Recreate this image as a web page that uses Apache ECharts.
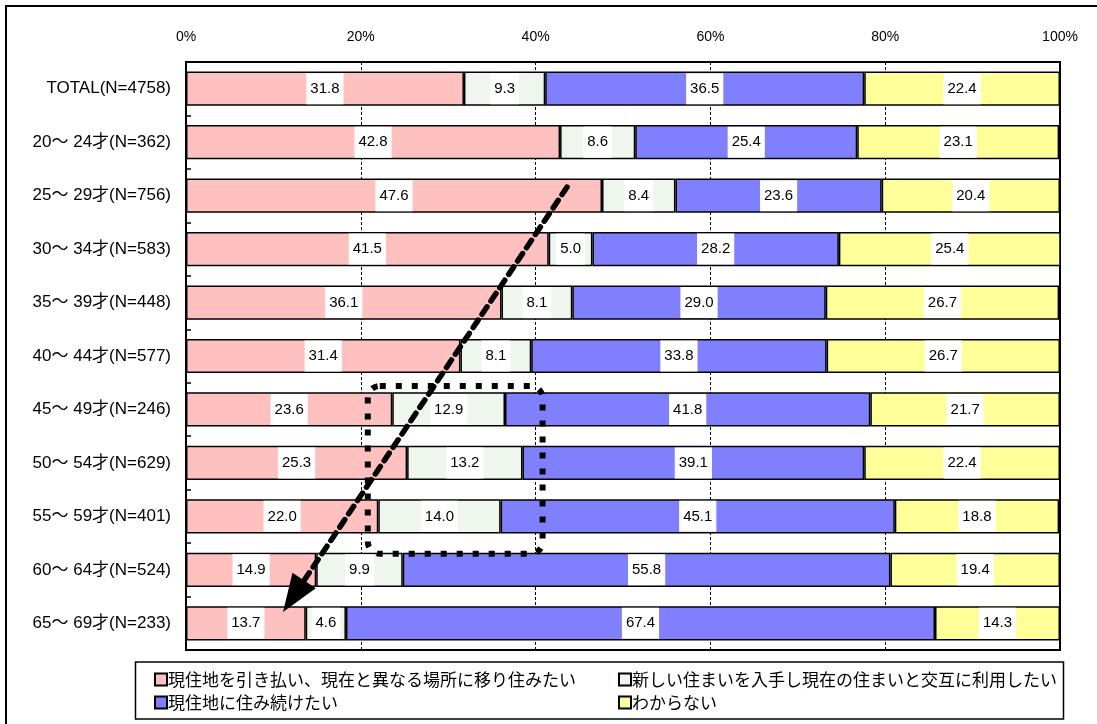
<!DOCTYPE html>
<html>
<head>
<meta charset="utf-8">
<script src="https://cdn.jsdelivr.net/npm/echarts@6/dist/echarts.min.js"></script>
<style>
  html, body { margin: 0; padding: 0; background: #fff; }
  #chart { width: 1097px; height: 724px; }
</style>
</head>
<body>
<div id="chart"></div>
<script>
// Age groups (N = respondents)
const categories = [
  'TOTAL(N=4758)',
  '20～ 24才(N=362)',
  '25～ 29才(N=756)',
  '30～ 34才(N=583)',
  '35～ 39才(N=448)',
  '40～ 44才(N=577)',
  '45～ 49才(N=246)',
  '50～ 54才(N=629)',
  '55～ 59才(N=401)',
  '60～ 64才(N=524)',
  '65～ 69才(N=233)'
];

// Share of answers per group, %
const moveAway = [31.8, 42.8, 47.6, 41.5, 36.1, 31.4, 23.6, 25.3, 22.0, 14.9, 13.7];
const twoHomes = [9.3, 8.6, 8.4, 5.0, 8.1, 8.1, 12.9, 13.2, 14.0, 9.9, 4.6];
const stayHere = [36.5, 25.4, 23.6, 28.2, 29.0, 33.8, 41.8, 39.1, 45.1, 55.8, 67.4];
const unsure   = [22.4, 23.1, 20.4, 25.4, 26.7, 26.7, 21.7, 22.4, 18.8, 19.4, 14.3];

const seriesNames = [
  '現住地を引き払い、現在と異なる場所に移り住みたい',
  '新しい住まいを入手し現在の住まいと交互に利用したい',
  '現住地に住み続けたい',
  'わからない'
];
const seriesColors = ['#ffc0c0', '#eef6ee', '#8080ff', '#ffff99'];
const seriesData = [moveAway, twoHomes, stayHere, unsure];

const LATIN = "'Liberation Sans', Arial, 'Noto Sans CJK JP', sans-serif";
const CJK = "'Noto Sans CJK JP', sans-serif";

const chart = echarts.init(document.getElementById('chart'), null, { renderer: 'canvas' });

const series = seriesNames.map((name, i) => ({
  name,
  type: 'bar',
  stack: 'share',
  data: seriesData[i],
  barWidth: '64%',
  itemStyle: { color: seriesColors[i], borderColor: '#000', borderWidth: 1.5 },
  emphasis: { disabled: true },
  label: {
    show: true,
    position: 'inside',
    formatter: p => Number(p.value).toFixed(1),
    backgroundColor: '#fff',
    padding: [8, 4],
    color: '#000',
    fontSize: 15,
    fontFamily: LATIN
  }
}));

const legendCommon = {
  orient: 'vertical',
  top: 666,
  itemWidth: 12,
  itemHeight: 12,
  itemGap: 6,
  selectedMode: false,
  icon: 'rect',
  textStyle: { fontSize: 17, fontFamily: CJK, color: '#000', padding: [0, 0, 0, -4] }
};

chart.setOption({
  animation: false,
  backgroundColor: '#fff',
  grid: {
    left: 186, right: 37, top: 62, bottom: 74,
    show: true, borderColor: '#000', borderWidth: 2
  },
  xAxis: {
    type: 'value',
    position: 'top',
    min: 0, max: 100, interval: 20,
    axisLine: { show: false },
    axisTick: { show: false },
    axisLabel: { formatter: '{value}%', fontSize: 14, color: '#000', fontFamily: LATIN, margin: 18 },
    splitLine: { show: true, lineStyle: { color: '#000', width: 1, type: [3, 2] } }
  },
  yAxis: {
    type: 'category',
    inverse: true,
    data: categories,
    axisLine: { show: true, lineStyle: { color: '#000', width: 2 } },
    axisTick: { show: true, inside: true, length: 5, lineStyle: { color: '#000', width: 1.5 } },
    axisLabel: { fontSize: 17, color: '#000', fontFamily: LATIN, margin: 15 }
  },
  legend: [
    Object.assign({ left: 149, data: [seriesNames[0], seriesNames[2]] }, legendCommon),
    Object.assign({ left: 613, data: [seriesNames[1], seriesNames[3]] }, legendCommon)
  ],
  series
});

// Annotation anchors in data space: [percent, category index]
const arrowFrom = [43.6, 1.84];
const arrowTo = [11.1, 9.79];
const boxFrom = [20.8, 5.56];
const boxTo = [40.8, 8.7];

function toPx(pt) {
  const a = chart.convertToPixel({ gridIndex: 0 }, [pt[0], 0]);
  const b = chart.convertToPixel({ gridIndex: 0 }, [pt[0], 1]);
  return [a[0], a[1] + (b[1] - a[1]) * pt[1]];
}

const p0 = toPx(arrowFrom);
const p1 = toPx(arrowTo);
const dx = p1[0] - p0[0], dy = p1[1] - p0[1];
const len = Math.hypot(dx, dy);
const ux = dx / len, uy = dy / len;
const headLen = 38, headHalf = 14;
const base = [p1[0] - ux * headLen, p1[1] - uy * headLen];
const nx = -uy, ny = ux;

const b0 = toPx(boxFrom);
const b1 = toPx(boxTo);

chart.setOption({
  graphic: [
    {
      type: 'rect', z: 100, silent: true,
      shape: { x: 6, y: 6, width: 1200, height: 800 },
      style: { fill: 'none', stroke: '#000', lineWidth: 2 }
    },
    {
      type: 'rect', z: 100, silent: true,
      shape: { x: 135.5, y: 662, width: 928, height: 57 },
      style: { fill: 'none', stroke: '#000', lineWidth: 1.5 }
    },
    {
      type: 'rect', z: 100, silent: true,
      shape: { x: b0[0], y: b0[1], width: b1[0] - b0[0], height: b1[1] - b0[1], r: 12 },
      style: { fill: 'none', stroke: '#000', lineWidth: 6, lineDash: [6, 10], lineCap: 'butt' }
    },
    {
      type: 'line', z: 101, silent: true,
      shape: { x1: p0[0], y1: p0[1], x2: base[0] + ux * 4, y2: base[1] + uy * 4 },
      style: { stroke: '#000', lineWidth: 5.5, lineDash: [9, 7], lineCap: 'round' }
    },
    {
      type: 'polygon', z: 101, silent: true,
      shape: {
        points: [
          [p1[0], p1[1]],
          [base[0] + nx * headHalf, base[1] + ny * headHalf],
          [base[0] - nx * headHalf, base[1] - ny * headHalf]
        ]
      },
      style: { fill: '#000' }
    }
  ]
});
</script>
</body>
</html>
